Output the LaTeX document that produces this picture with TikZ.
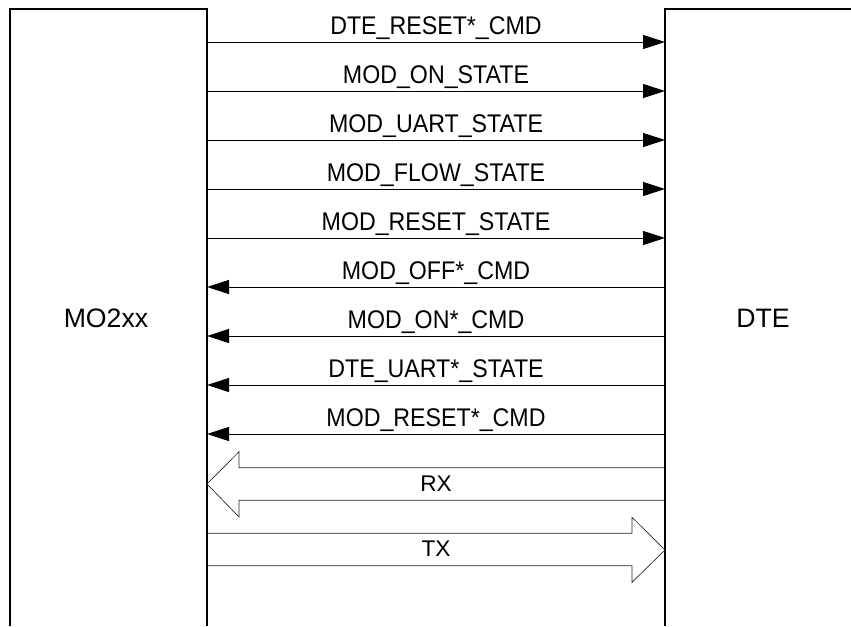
\documentclass[tikz,border=0pt]{standalone}
\usepackage{fontspec}
\setmainfont{Liberation Sans}
\usepackage{tikz}
\usetikzlibrary{arrows.meta,positioning}

\begin{document}
\begin{tikzpicture}[
    x=0.75pt, y=-0.75pt,
    unit/.style={line width=0.8pt},
    unit label/.style={font=\fontsize{20}{24}\selectfont},
    sig/.style={line width=0.75pt, -{Triangle[length=16.5pt,width=10.5pt]}},
    sig label/.style={anchor=base, yshift=5.6pt, inner sep=0pt, yscale=1.1, transform shape,
        font=\fontsize{17.4}{20}\selectfont},
    bus/.style={line width=0.5pt, draw=black!85},
    bus label/.style={font=\fontsize{17}{20}\selectfont},
]
\useasboundingbox (0,0) rectangle (851,626);

% Bloques
\draw[unit] (10,626) -- (10,9) -- (207,9) -- (207,626);
\draw[unit] (851,9) -- (665,9) -- (665,626);
\node[unit label] (mo) at (106,318) {MO2xx};
\node[unit label] (dte) at (763,318) {DTE};

% Puntos de conexion
\coordinate (m1) at (207,42);   \coordinate (d1) at (665,42);
\coordinate (m2) at (207,91);   \coordinate (d2) at (665,91);
\coordinate (m3) at (207,140);  \coordinate (d3) at (665,140);
\coordinate (m4) at (207,189);  \coordinate (d4) at (665,189);
\coordinate (m5) at (207,238);  \coordinate (d5) at (665,238);
\coordinate (m6) at (207,287);  \coordinate (d6) at (665,287);
\coordinate (m7) at (207,336);  \coordinate (d7) at (665,336);
\coordinate (m8) at (207,385);  \coordinate (d8) at (665,385);
\coordinate (m9) at (207,434);  \coordinate (d9) at (665,434);
\coordinate (rxm) at (207,484); \coordinate (rxd) at (665,484);
\coordinate (txm) at (207,550); \coordinate (txd) at (665,550);

% MO2xx -> DTE
\draw[sig] (m1) -- node[sig label] {DTE\_RESET*\_CMD} (d1);
\draw[sig] (m2) -- node[sig label] {MOD\_ON\_STATE} (d2);
\draw[sig] (m3) -- node[sig label] {MOD\_UART\_STATE} (d3);
\draw[sig] (m4) -- node[sig label] {MOD\_FLOW\_STATE} (d4);
\draw[sig] (m5) -- node[sig label] {MOD\_RESET\_STATE} (d5);

% DTE -> MO2xx
\draw[sig] (d6) -- node[sig label] {MOD\_OFF*\_CMD} (m6);
\draw[sig] (d7) -- node[sig label] {MOD\_ON*\_CMD} (m7);
\draw[sig] (d8) -- node[sig label] {DTE\_UART*\_STATE} (m8);
\draw[sig] (d9) -- node[sig label] {MOD\_RESET*\_CMD} (m9);

% Datos
\draw[bus] (rxd) ++(0,-16.3) -- ++(-426,0) -- ++(0,-16) -- (rxm)
    -- ++(32,33) -- ++(0,-16.7) -- ++(426,0);
\path (rxm) -- node[bus label] (rx) {RX} (rxd);
\draw[bus] (txm) ++(0,-16.7) -- ++(425,0) -- ++(0,-16) -- (txd)
    -- ++(-33,32.3) -- ++(0,-16.6) -- ++(-425,0);
\path (txm) -- node[bus label, yshift=1pt] (tx) {TX} (txd);
\end{tikzpicture}
\end{document}
